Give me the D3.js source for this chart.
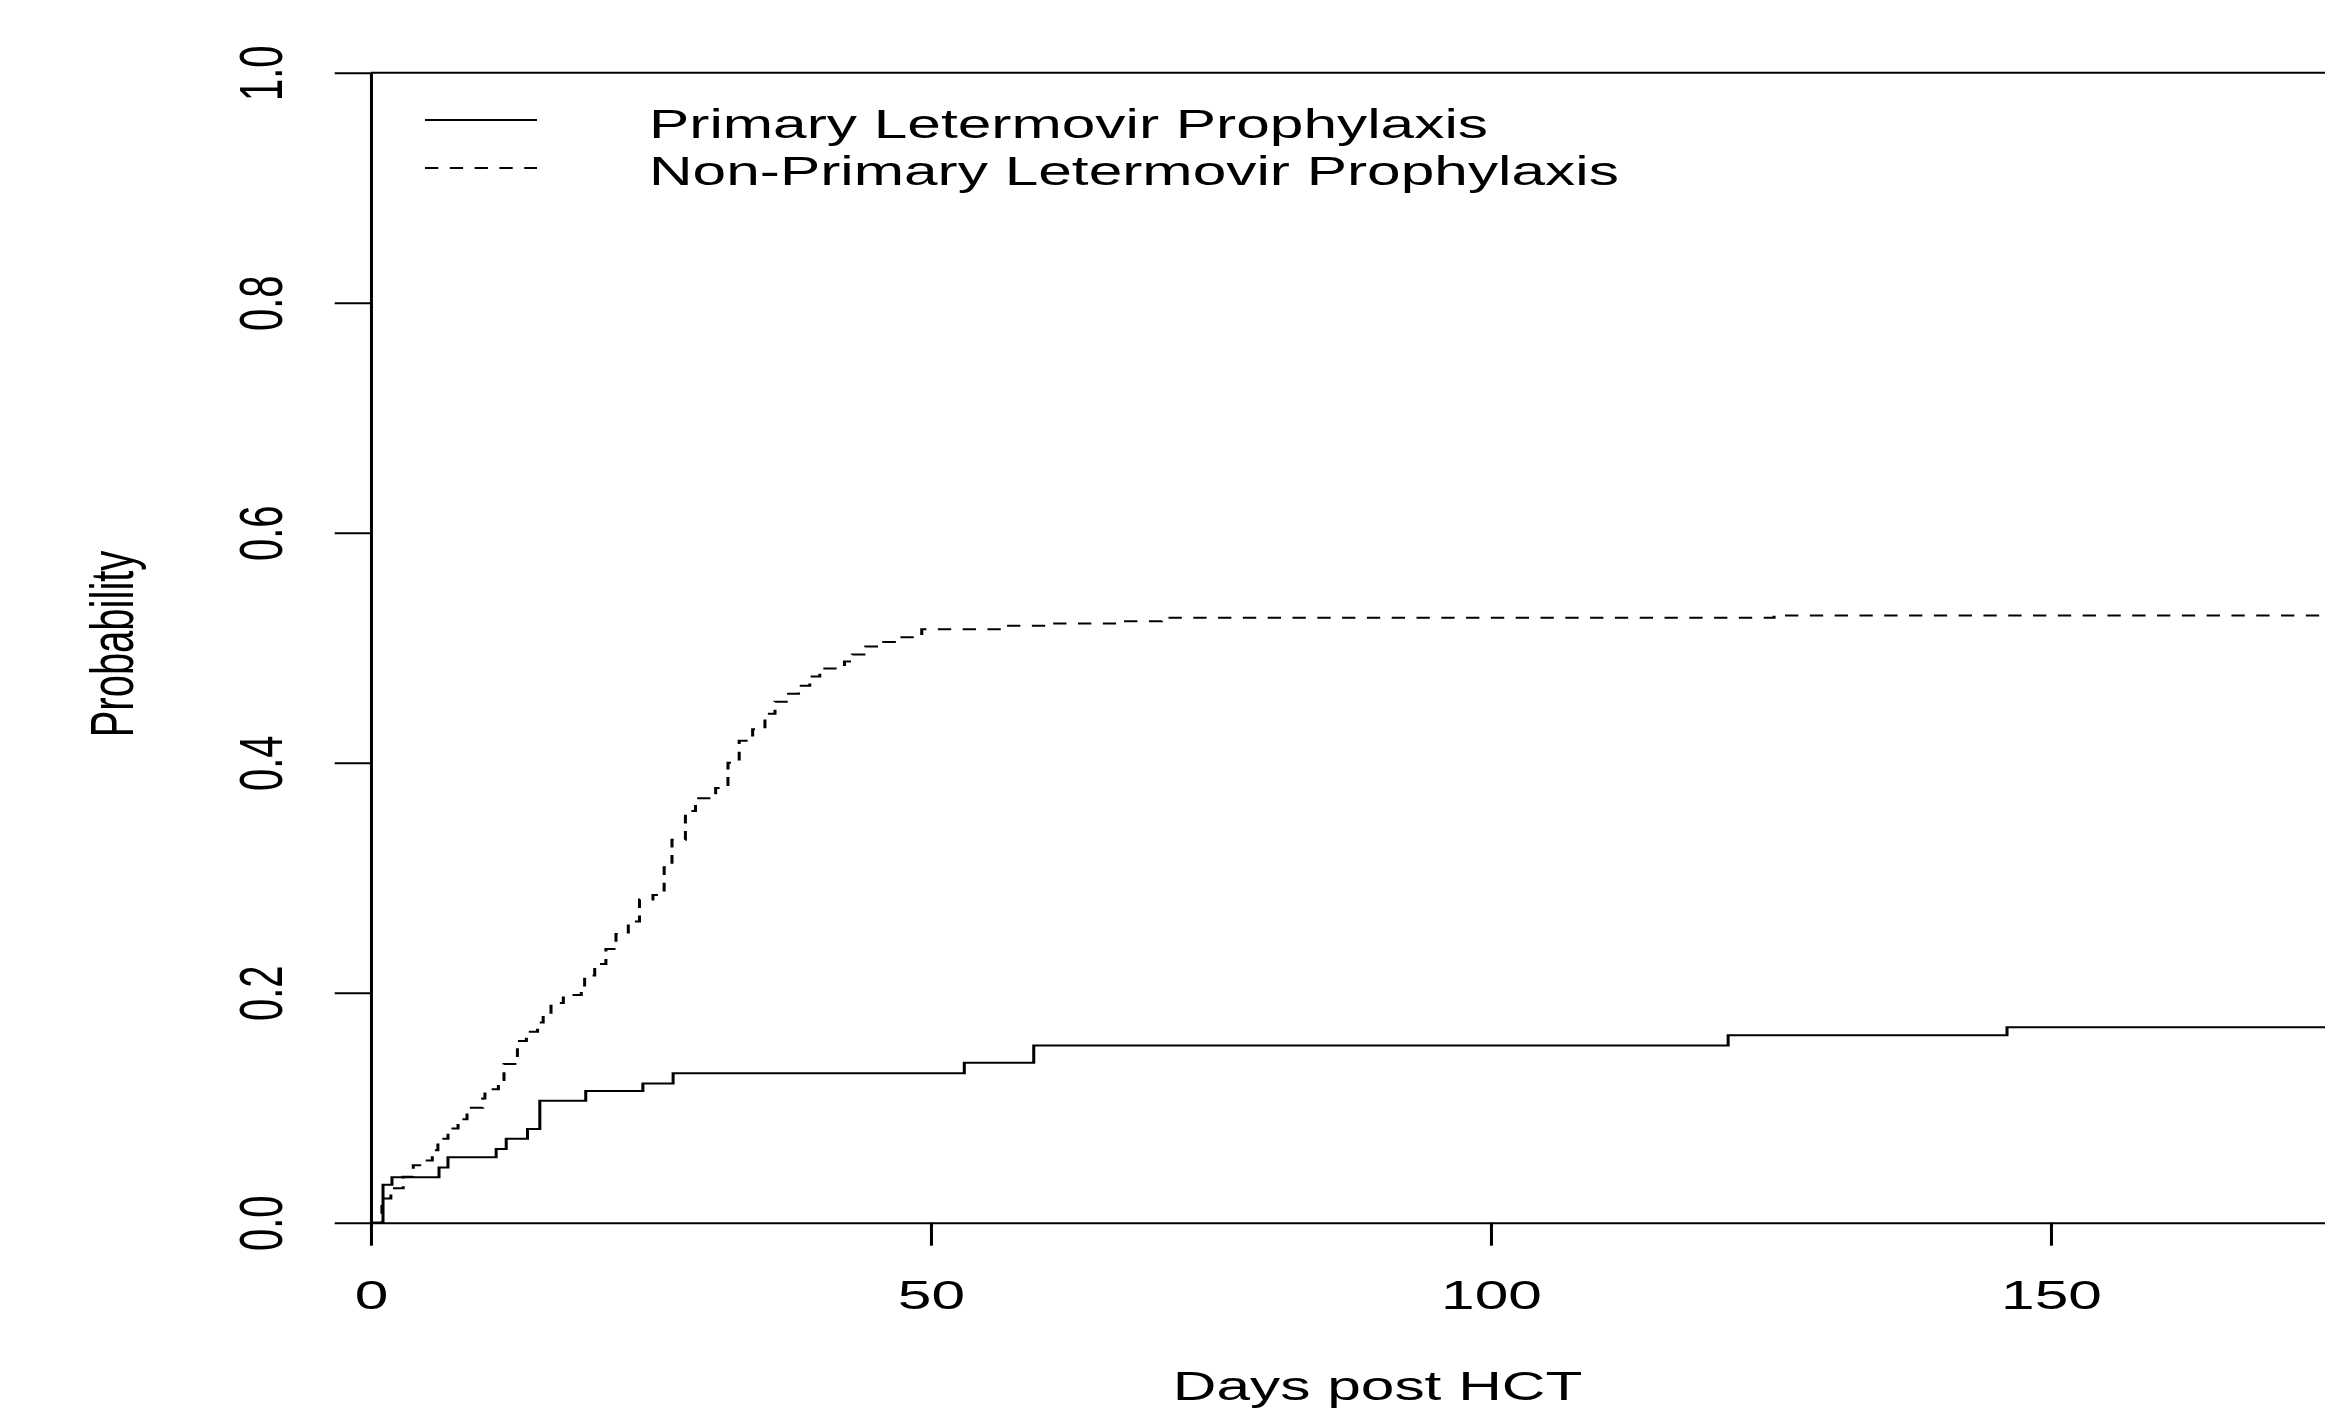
<!DOCTYPE html>
<html>
<head>
<meta charset="utf-8">
<script src="https://cdn.jsdelivr.net/npm/d3@7"></script>
<style>
  html, body { margin: 0; padding: 0; background: #ffffff; }
  svg { display: block; }
  text { font-family: "Liberation Sans", Arial, sans-serif; fill: #000; }
</style>
</head>
<body>
<svg id="chart" width="2325" height="1410"></svg>
<script>
// ---- data ----
const seriesNames = ["Primary Letermovir Prophylaxis", "Non-Primary Letermovir Prophylaxis"];

const primaryDays = [0, 1.1, 1.9, 6.1, 6.9, 11.2, 12.1, 14.0, 15.1, 19.2, 24.3, 27.0, 53.0, 59.2, 121.2, 146.1, 174.5];
const primaryProb = [0, 0.033, 0.0395, 0.048, 0.057, 0.064, 0.073, 0.0815, 0.106, 0.1145, 0.121, 0.130, 0.139, 0.154, 0.163, 0.170, 0.170];

const nonPrimaryDays = [0, 1.0, 1.8, 2.9, 3.8, 4.6, 5.5, 6.0, 6.9, 7.8,
  8.6, 10.0, 10.2, 11.4, 11.9, 13.1, 13.9, 14.9, 15.4, 16.1,
  17.2, 18.8, 19.1, 20.0, 21.0, 21.9, 23.0, 24.0, 25.2, 26.2,
  26.9, 28.1, 29.0, 30.8, 31.9, 32.9, 34.1, 35.2, 36.1, 37.1,
  38.2, 39.2, 40.1, 42.3, 43.0, 44.2, 45.8, 47.2, 49.2, 56.4,
  60.4, 66.9, 70.6, 125.3, 174.5];
const nonPrimaryProb = [0, 0.021, 0.030, 0.040, 0.050, 0.054, 0.063, 0.073, 0.082, 0.090,
  0.100, 0.108, 0.116, 0.124, 0.138, 0.158, 0.166, 0.174, 0.181, 0.191,
  0.198, 0.205, 0.215, 0.225, 0.238, 0.251, 0.262, 0.281, 0.285, 0.309,
  0.333, 0.358, 0.369, 0.378, 0.400, 0.419, 0.429, 0.4425, 0.453, 0.460,
  0.467, 0.475, 0.482, 0.488, 0.494, 0.501, 0.505, 0.509, 0.516, 0.519,
  0.521, 0.523, 0.526, 0.528, 0.528];

const xTicks = [0, 50, 100, 150];
const yTicks = [0, 0.2, 0.4, 0.6, 0.8, 1.0];
const xTitle = "Days post HCT";
const yTitle = "Probability";

// ---- layout ----
const SX = 1.51;           // horizontal stretch of the original picture
const FONT = 40;
const xMax = 174.5;
const x0s = 370.7, pxPerDay = 11.2;   // screen px
const svg = d3.select("#chart");
const g = svg.append("g").attr("transform", `scale(${SX},1)`);

const x = d3.scaleLinear().domain([0, xMax]).range([x0s / SX, (x0s + xMax * pxPerDay) / SX]);
const y = d3.scaleLinear().domain([0, 1]).range([1222.7, 72.7]);

// top line
g.append("line")
  .attr("x1", x(0)).attr("x2", x(xMax))
  .attr("y1", y(1)).attr("y2", y(1))
  .attr("stroke", "#000").attr("stroke-width", 2);

// y axis
const yAxis = g.append("g")
  .attr("transform", `translate(${x(0)},0)`)
  .call(d3.axisLeft(y).tickValues(yTicks).tickSize(36 / SX).tickSizeOuter(0).tickFormat(d3.format(".1f")));
yAxis.selectAll("path, line").attr("stroke", "#000").attr("stroke-width", 2);
yAxis.selectAll(".tick text")
  .attr("x", null).attr("dy", null)
  .attr("transform", `translate(${282 / SX - x(0)},0) rotate(-90)`)
  .attr("text-anchor", "middle")
  .style("font-size", FONT + "px")
  .style("font-family", '"Liberation Sans", Arial, sans-serif')
  .attr("fill", "#000");

// x axis
const xAxis = g.append("g")
  .attr("transform", `translate(0,${y(0)})`)
  .call(d3.axisBottom(x).tickValues(xTicks).tickSize(23).tickSizeOuter(0).tickFormat(d3.format("d")));
xAxis.selectAll("path, line").attr("stroke", "#000").attr("stroke-width", 2);
xAxis.selectAll(".tick text")
  .attr("y", 1309 - y(0)).attr("dy", 0)
  .attr("text-anchor", "middle")
  .style("font-size", FONT + "px")
  .style("font-family", '"Liberation Sans", Arial, sans-serif')
  .attr("fill", "#000");

// axis titles
g.append("text")
  .attr("x", x(89.9)).attr("y", 1400)
  .attr("text-anchor", "middle")
  .style("font-size", FONT + "px")
  .text(xTitle);

g.append("text")
  .attr("transform", `translate(${133 / SX},644) rotate(-90)`)
  .attr("text-anchor", "middle")
  .style("font-size", FONT + "px")
  .text(yTitle);

// curves
const stepLine = d3.line()
  .x(d => x(d[0]))
  .y(d => y(d[1]))
  .curve(d3.curveStepAfter);

const primaryData = primaryDays.map((d, i) => [d, primaryProb[i]]);
const nonPrimaryData = nonPrimaryDays.map((d, i) => [d, nonPrimaryProb[i]]);

const DASH = `${13.3 / SX},${11.5 / SX}`;

g.append("path")
  .datum(primaryData)
  .attr("d", stepLine)
  .attr("fill", "none").attr("stroke", "#000").attr("stroke-width", 2);

g.append("path")
  .datum(nonPrimaryData)
  .attr("d", stepLine)
  .attr("fill", "none").attr("stroke", "#000").attr("stroke-width", 2)
  .attr("stroke-dasharray", DASH);

// legend
const legend = g.append("g");
const legendRows = [
  { name: seriesNames[0], dash: null, ly: 120, ty: 138 },
  { name: seriesNames[1], dash: DASH, ly: 168, ty: 185 }
];
legendRows.forEach(r => {
  legend.append("line")
    .attr("x1", 425 / SX).attr("x2", 537 / SX)
    .attr("y1", r.ly).attr("y2", r.ly)
    .attr("stroke", "#000").attr("stroke-width", 2)
    .attr("stroke-dasharray", r.dash);
  legend.append("text")
    .attr("x", 649 / SX).attr("y", r.ty)
    .style("font-size", FONT + "px")
    .text(r.name);
});
</script>
</body>
</html>
